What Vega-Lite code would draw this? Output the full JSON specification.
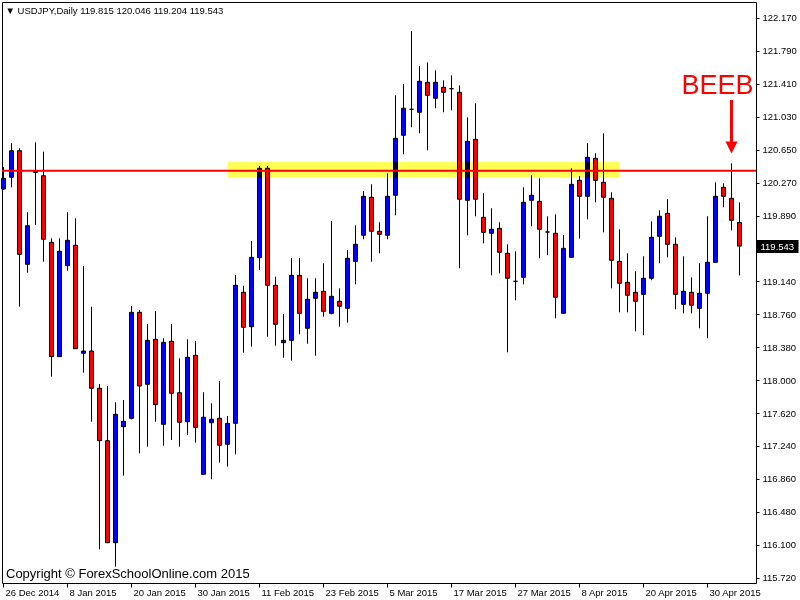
{
  "$schema": "https://vega.github.io/schema/vega-lite/v6.json",
  "width": 754,
  "height": 581,
  "autosize": {"type": "none"},
  "padding": {"left": 2, "top": 2, "right": 44, "bottom": 17},
  "background": "white",
  "config": {
    "view": {"stroke": "#000000", "strokeWidth": 1},
    "axis": {"grid": false, "domain": false, "labelFont": "Liberation Sans", "labelFontSize": 9.5, "labelColor": "#000000", "tickColor": "#000000", "labelOverlap": false, "labelFlush": false}
  },
  "resolve": {"scale": {"x": "shared", "y": "shared"}, "axis": {"y": "independent"}},
  "datasets": {
    "ohlc": [
      {"d":"2014-12-26","o":120.200,"h":120.454,"l":120.189,"c":120.323},
      {"d":"2014-12-29","o":120.335,"h":120.727,"l":120.220,"c":120.641},
      {"d":"2014-12-30","o":120.641,"h":120.669,"l":118.844,"c":119.448},
      {"d":"2014-12-31","o":119.333,"h":119.932,"l":119.236,"c":119.777},
      {"d":"2015-01-02","o":120.392,"h":120.738,"l":119.785,"c":120.411},
      {"d":"2015-01-05","o":120.353,"h":120.630,"l":119.363,"c":119.621},
      {"d":"2015-01-06","o":119.586,"h":119.632,"l":118.038,"c":118.269},
      {"d":"2015-01-07","o":118.269,"h":119.632,"l":118.265,"c":119.483},
      {"d":"2015-01-08","o":119.317,"h":119.932,"l":119.259,"c":119.609},
      {"d":"2015-01-09","o":119.552,"h":119.863,"l":118.357,"c":118.361},
      {"d":"2015-01-12","o":118.308,"h":119.313,"l":118.084,"c":118.334},
      {"d":"2015-01-13","o":118.334,"h":118.844,"l":117.520,"c":117.905},
      {"d":"2015-01-14","o":117.905,"h":117.954,"l":116.050,"c":117.301},
      {"d":"2015-01-15","o":117.301,"h":117.931,"l":116.123,"c":116.126},
      {"d":"2015-01-16","o":116.126,"h":117.743,"l":115.850,"c":117.605},
      {"d":"2015-01-19","o":117.462,"h":117.770,"l":116.898,"c":117.524},
      {"d":"2015-01-20","o":117.559,"h":118.852,"l":117.547,"c":118.780},
      {"d":"2015-01-21","o":118.780,"h":118.806,"l":117.156,"c":117.931},
      {"d":"2015-01-22","o":117.951,"h":118.645,"l":117.232,"c":118.457},
      {"d":"2015-01-23","o":118.469,"h":118.795,"l":117.520,"c":117.716},
      {"d":"2015-01-26","o":117.490,"h":118.481,"l":117.243,"c":118.434},
      {"d":"2015-01-27","o":118.446,"h":118.645,"l":117.309,"c":117.847},
      {"d":"2015-01-28","o":117.854,"h":118.250,"l":117.232,"c":117.513},
      {"d":"2015-01-29","o":117.520,"h":118.469,"l":117.367,"c":118.262},
      {"d":"2015-01-30","o":118.285,"h":118.449,"l":117.278,"c":117.455},
      {"d":"2015-02-02","o":116.914,"h":117.859,"l":116.914,"c":117.571},
      {"d":"2015-02-03","o":117.508,"h":117.732,"l":116.856,"c":117.548},
      {"d":"2015-02-04","o":117.559,"h":117.989,"l":117.048,"c":117.248},
      {"d":"2015-02-05","o":117.260,"h":117.586,"l":117.002,"c":117.501},
      {"d":"2015-02-06","o":117.501,"h":119.210,"l":117.144,"c":119.091},
      {"d":"2015-02-09","o":119.010,"h":119.086,"l":118.315,"c":118.607},
      {"d":"2015-02-10","o":118.614,"h":119.601,"l":118.384,"c":119.413},
      {"d":"2015-02-11","o":119.409,"h":120.465,"l":119.267,"c":120.439},
      {"d":"2015-02-12","o":120.439,"h":120.465,"l":118.499,"c":119.091},
      {"d":"2015-02-13","o":119.091,"h":119.190,"l":118.395,"c":118.642},
      {"d":"2015-02-16","o":118.430,"h":118.760,"l":118.257,"c":118.457},
      {"d":"2015-02-17","o":118.457,"h":119.405,"l":118.223,"c":119.206},
      {"d":"2015-02-18","o":119.206,"h":119.405,"l":118.527,"c":118.768},
      {"d":"2015-02-19","o":118.596,"h":119.172,"l":118.418,"c":118.930},
      {"d":"2015-02-20","o":118.941,"h":119.172,"l":118.280,"c":119.010},
      {"d":"2015-02-23","o":119.022,"h":119.344,"l":118.729,"c":118.791},
      {"d":"2015-02-24","o":118.768,"h":119.832,"l":118.757,"c":118.964},
      {"d":"2015-02-25","o":118.907,"h":119.056,"l":118.614,"c":118.849},
      {"d":"2015-02-26","o":118.826,"h":119.498,"l":118.660,"c":119.402},
      {"d":"2015-02-27","o":119.367,"h":119.782,"l":119.102,"c":119.563},
      {"d":"2015-03-02","o":119.667,"h":120.177,"l":119.621,"c":120.116},
      {"d":"2015-03-03","o":120.105,"h":120.254,"l":119.363,"c":119.713},
      {"d":"2015-03-04","o":119.713,"h":119.817,"l":119.460,"c":119.678},
      {"d":"2015-03-05","o":119.667,"h":120.381,"l":119.621,"c":120.116},
      {"d":"2015-03-06","o":120.128,"h":121.279,"l":119.897,"c":120.784},
      {"d":"2015-03-09","o":120.819,"h":121.410,"l":120.600,"c":121.130},
      {"d":"2015-03-10","o":121.118,"h":122.020,"l":120.911,"c":121.118},
      {"d":"2015-03-11","o":121.084,"h":121.617,"l":120.842,"c":121.441},
      {"d":"2015-03-12","o":121.429,"h":121.659,"l":120.646,"c":121.279},
      {"d":"2015-03-13","o":121.245,"h":121.567,"l":121.130,"c":121.429},
      {"d":"2015-03-16","o":121.372,"h":121.452,"l":121.084,"c":121.314},
      {"d":"2015-03-17","o":121.355,"h":121.510,"l":121.107,"c":121.355},
      {"d":"2015-03-18","o":121.314,"h":121.395,"l":119.287,"c":120.082},
      {"d":"2015-03-19","o":120.070,"h":121.026,"l":119.667,"c":120.750},
      {"d":"2015-03-20","o":120.773,"h":121.187,"l":119.886,"c":120.082},
      {"d":"2015-03-23","o":119.874,"h":120.151,"l":119.575,"c":119.701},
      {"d":"2015-03-24","o":119.690,"h":119.978,"l":119.206,"c":119.736},
      {"d":"2015-03-25","o":119.747,"h":119.817,"l":119.229,"c":119.471},
      {"d":"2015-03-26","o":119.460,"h":119.563,"l":118.319,"c":119.172},
      {"d":"2015-03-27","o":119.137,"h":119.483,"l":118.918,"c":119.137},
      {"d":"2015-03-30","o":119.183,"h":120.220,"l":119.102,"c":120.047},
      {"d":"2015-03-31","o":120.070,"h":120.358,"l":119.770,"c":120.128},
      {"d":"2015-04-01","o":120.058,"h":120.323,"l":119.402,"c":119.736},
      {"d":"2015-04-02","o":119.705,"h":119.886,"l":119.437,"c":119.705},
      {"d":"2015-04-03","o":119.690,"h":119.909,"l":118.711,"c":118.953},
      {"d":"2015-04-06","o":118.768,"h":119.670,"l":118.768,"c":119.517},
      {"d":"2015-04-07","o":119.413,"h":120.439,"l":119.413,"c":120.254},
      {"d":"2015-04-08","o":120.300,"h":120.350,"l":119.628,"c":120.116},
      {"d":"2015-04-09","o":120.116,"h":120.727,"l":119.851,"c":120.565},
      {"d":"2015-04-10","o":120.554,"h":120.611,"l":120.047,"c":120.300},
      {"d":"2015-04-13","o":120.277,"h":120.842,"l":119.701,"c":120.105},
      {"d":"2015-04-14","o":120.093,"h":120.162,"l":119.056,"c":119.379},
      {"d":"2015-04-15","o":119.367,"h":119.736,"l":118.780,"c":119.114},
      {"d":"2015-04-16","o":119.126,"h":119.460,"l":118.780,"c":118.976},
      {"d":"2015-04-17","o":119.010,"h":119.252,"l":118.561,"c":118.907},
      {"d":"2015-04-20","o":118.987,"h":119.425,"l":118.515,"c":119.172},
      {"d":"2015-04-21","o":119.172,"h":119.828,"l":119.149,"c":119.644},
      {"d":"2015-04-22","o":119.655,"h":119.955,"l":119.344,"c":119.886},
      {"d":"2015-04-23","o":119.920,"h":120.082,"l":119.413,"c":119.563},
      {"d":"2015-04-24","o":119.563,"h":119.644,"l":118.815,"c":118.987},
      {"d":"2015-04-27","o":118.872,"h":119.425,"l":118.768,"c":119.022},
      {"d":"2015-04-28","o":119.010,"h":119.183,"l":118.768,"c":118.861},
      {"d":"2015-04-29","o":118.826,"h":119.344,"l":118.596,"c":118.999},
      {"d":"2015-04-30","o":118.999,"h":119.886,"l":118.481,"c":119.356},
      {"d":"2015-05-01","o":119.356,"h":120.277,"l":119.356,"c":120.116},
      {"d":"2015-05-04","o":120.220,"h":120.266,"l":119.989,"c":120.116},
      {"d":"2015-05-05","o":120.093,"h":120.496,"l":119.724,"c":119.840},
      {"d":"2015-05-06","o":119.815,"h":120.046,"l":119.204,"c":119.543}
    ],
    "zone": [{"d": "2015-02-05", "d2": "2015-04-15", "lo": 120.330, "hi": 120.511}],
    "level": [{"p": 120.41}],
    "arrow": [{"d": "2015-05-05", "top": 121.225, "tip": 120.741, "head": 120.678}],
    "beeb": [{"d": "2015-05-01", "p": 121.29, "t": "BEEB"}],
    "header": [{"d": "2014-12-26", "p": 122.256, "t": "▼ USDJPY,Daily  119.815 120.046 119.204 119.543"}],
    "copy": [{"d": "2014-12-26", "p": 115.771, "t": "Copyright © ForexSchoolOnline.com 2015"}]
  },
  "layer": [
    {
      "data": {"name": "ohlc"},
      "mark": {"type": "rule", "color": "#000000", "strokeWidth": 1},
      "encoding": {
        "x": {
          "field": "d", "type": "ordinal", "title": null,
          "scale": {"type": "band", "domain": {"unionWith": ["2015-05-07", "2015-05-08"]}, "range": [-0.5, 755.5], "paddingInner": 0.5, "paddingOuter": 0},
          "axis": {
            "values": ["2014-12-26","2015-01-08","2015-01-20","2015-01-30","2015-02-11","2015-02-23","2015-03-05","2015-03-17","2015-03-27","2015-04-08","2015-04-20","2015-04-30"],
            "labelExpr": "utcFormat(toDate(datum.value), '%-d %b %Y')",
            "labelAlign": "left", "labelBaseline": "top", "tickSize": 4, "labelPadding": 0, "labelOffset": 2, "labelAngle": 0,
            "labelOverlap": false, "labelFlush": false, "labelBound": false
          }
        },
        "y": {
          "field": "l", "type": "quantitative", "title": null,
          "scale": {"domain": [115.662, 122.354], "nice": false, "zero": false},
          "axis": {
            "orient": "right",
            "values": [115.72, 116.1, 116.48, 116.86, 117.24, 117.62, 118.0, 118.38, 118.76, 119.14, 119.89, 120.27, 120.65, 121.03, 121.41, 121.79, 122.17],
            "format": ".3f", "tickSize": 3, "labelPadding": 3,
            "labelOverlap": false, "labelFlush": false, "labelBound": false
          }
        },
        "y2": {"field": "h"}
      }
    },
    {
      "data": {"name": "ohlc"},
      "mark": {"type": "bar", "stroke": "#000000", "strokeWidth": 1},
      "encoding": {
        "x": {"field": "d", "type": "ordinal", "title": null},
        "y": {
          "field": "o", "type": "quantitative", "title": null,
          "axis": {
            "orient": "right", "values": [119.543], "format": ".3f",
            "tickSize": 42, "tickWidth": 13, "tickColor": "#000000",
            "labelPadding": -38, "labelColor": "#ffffff",
            "labelOverlap": false, "labelFlush": false, "labelBound": false
          }
        },
        "y2": {"field": "c"},
        "fill": {"condition": {"test": "datum.c > datum.o", "value": "#0000ff"}, "value": "#ff0000"}
      }
    },
    {
      "data": {"name": "zone"},
      "mark": {"type": "rect", "fill": "#ffff55", "blend": "multiply"},
      "encoding": {
        "x": {"field": "d", "type": "ordinal", "title": null},
        "x2": {"field": "d2"},
        "y": {"field": "lo", "type": "quantitative", "title": null, "axis": null},
        "y2": {"field": "hi"}
      }
    },
    {
      "data": {"name": "level"},
      "mark": {"type": "rule", "color": "#ff0000", "strokeWidth": 2},
      "encoding": {"y": {"field": "p", "type": "quantitative", "title": null, "axis": null}}
    },
    {
      "data": {"name": "arrow"},
      "mark": {"type": "rule", "color": "#ff0000", "strokeWidth": 3},
      "encoding": {
        "x": {"field": "d", "type": "ordinal", "title": null},
        "y": {"field": "top", "type": "quantitative", "title": null, "axis": null},
        "y2": {"field": "tip"}
      }
    },
    {
      "data": {"name": "arrow"},
      "mark": {"type": "point", "shape": "M-1,-1L1,-1L0,1Z", "size": 144, "filled": true, "fill": "#ff0000", "opacity": 1, "strokeWidth": 0},
      "encoding": {
        "x": {"field": "d", "type": "ordinal", "title": null},
        "y": {"field": "head", "type": "quantitative", "title": null, "axis": null}
      }
    },
    {
      "data": {"name": "beeb"},
      "mark": {"type": "text", "font": "Liberation Sans", "fontSize": 27, "color": "#ff0000", "align": "center", "baseline": "alphabetic", "dx": 2},
      "encoding": {
        "x": {"field": "d", "type": "ordinal", "title": null},
        "y": {"field": "p", "type": "quantitative", "title": null, "axis": null},
        "text": {"field": "t"}
      }
    },
    {
      "data": {"name": "header"},
      "mark": {"type": "text", "font": "Liberation Sans", "fontSize": 9.5, "color": "#000000", "align": "left", "baseline": "middle", "dx": 2},
      "encoding": {
        "x": {"field": "d", "type": "ordinal", "title": null},
        "y": {"field": "p", "type": "quantitative", "title": null, "axis": null},
        "text": {"field": "t"}
      }
    },
    {
      "data": {"name": "copy"},
      "mark": {"type": "text", "font": "Liberation Sans", "fontSize": 13, "color": "#000000", "align": "left", "baseline": "middle", "dx": 2.5},
      "encoding": {
        "x": {"field": "d", "type": "ordinal", "title": null},
        "y": {"field": "p", "type": "quantitative", "title": null, "axis": null},
        "text": {"field": "t"}
      }
    }
  ]
}
